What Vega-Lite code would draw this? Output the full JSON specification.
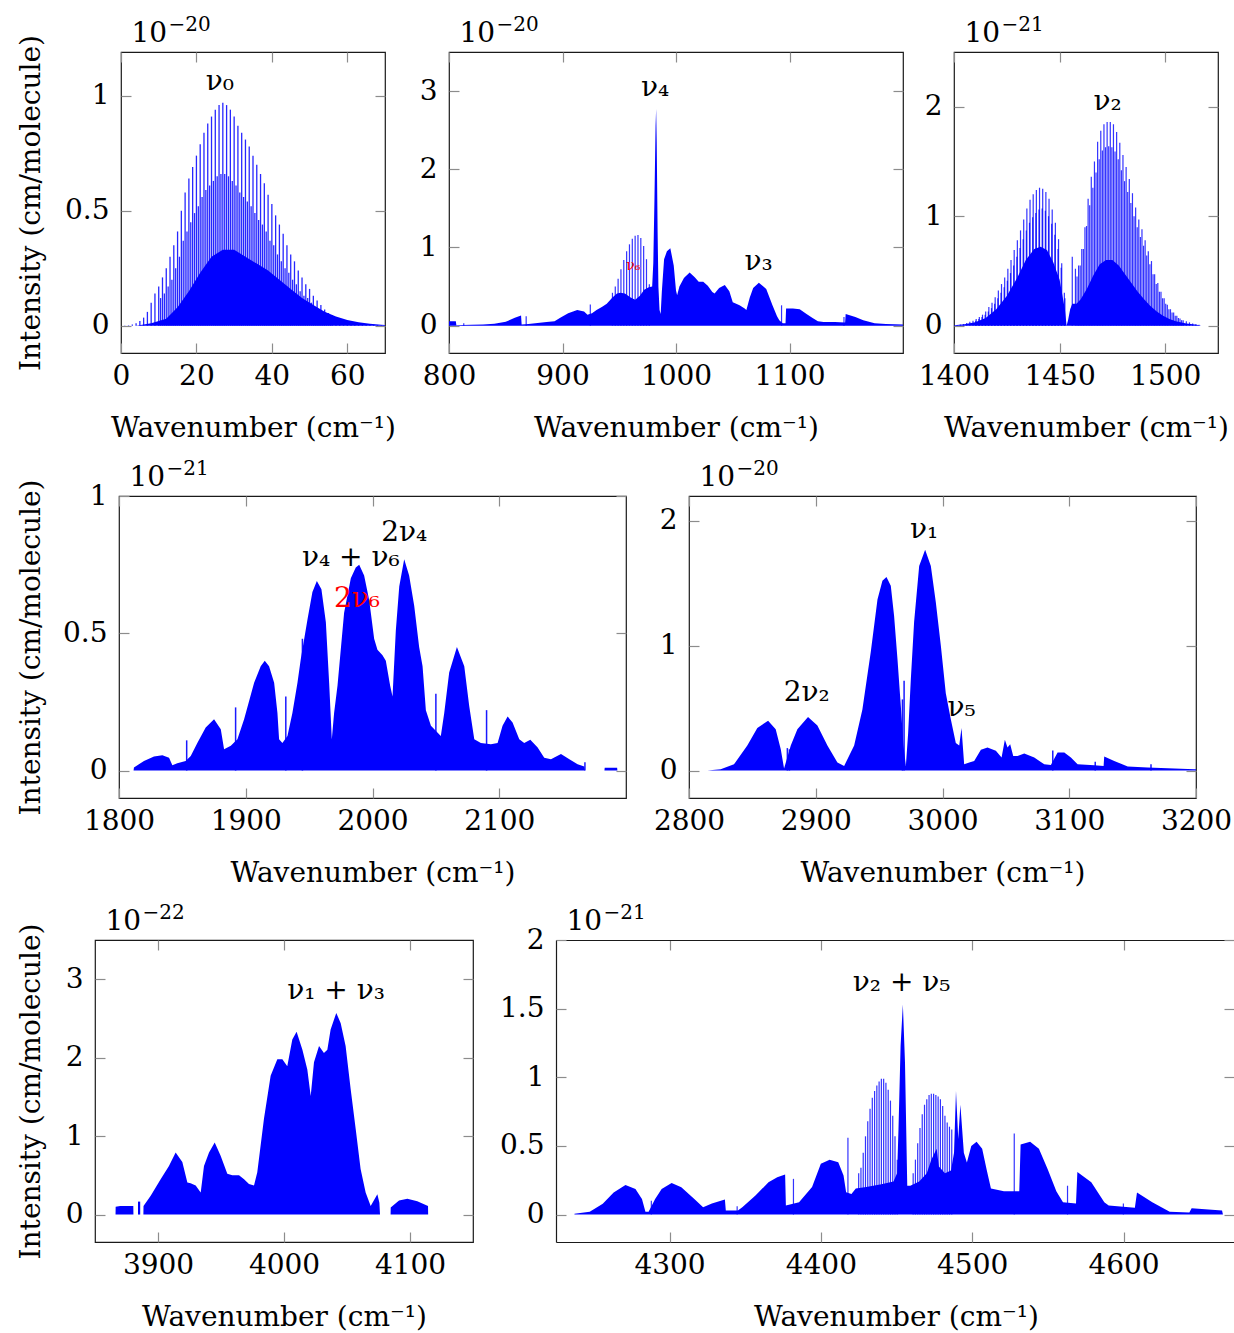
{
  "$schema": "https://vega.github.io/schema/vega-lite/v6.json",
  "background": "white",
  "padding": {"left": 16, "top": 13, "right": 0, "bottom": 0},
  "bounds": "flush",
  "spacing": 444,
  "config": {
    "font": "DejaVu Serif",
    "numberFormat": "~f",
    "view": {"stroke": "#1a1a1a", "strokeWidth": 1.2},
    "axis": {"domain": false, "grid": false, "labelFont": "DejaVu Serif", "labelFontSize": 28, "labelColor": "#000000", "labelFlush": false, "labelOverlap": false, "labelBound": false, "titleFont": "DejaVu Serif", "titleFontSize": 28, "titleFontWeight": "normal", "titleColor": "#000000", "tickColor": "#8c8c8c", "tickWidth": 1.2},
    "axisX": {"labelPadding": 9},
    "axisY": {"labelPadding": 12},
    "text": {"font": "DejaVu Serif", "fontSize": 28, "color": "#000000", "align": "center", "baseline": "middle"}
  },
  "datasets": {
    "p1a": [{"x":4,"y":0},{"x":8,"y":0.01},{"x":12,"y":0.03},{"x":15,"y":0.08},{"x":18,"y":0.15},{"x":21,"y":0.23},{"x":24,"y":0.3},{"x":27,"y":0.33},{"x":30,"y":0.33},{"x":33,"y":0.3},{"x":36,"y":0.27},{"x":39,"y":0.24},{"x":42,"y":0.2},{"x":45,"y":0.16},{"x":48,"y":0.12},{"x":51,"y":0.09},{"x":54,"y":0.06},{"x":57,"y":0.04},{"x":60,"y":0.025},{"x":63,"y":0.015},{"x":66,"y":0.008},{"x":69,"y":0.004},{"x":70,"y":0.003}],
    "p1s": [{"x":1,"y":0.001},{"x":2,"y":0.002},{"x":3,"y":0.005},{"x":4,"y":0.01},{"x":5,"y":0.02},{"x":6,"y":0.035},{"x":7,"y":0.06},{"x":8,"y":0.1},{"x":9,"y":0.14},{"x":10,"y":0.17},{"x":11,"y":0.21},{"x":12,"y":0.25},{"x":13,"y":0.3},{"x":14,"y":0.35},{"x":15,"y":0.41},{"x":16,"y":0.5},{"x":17,"y":0.58},{"x":18,"y":0.64},{"x":19,"y":0.69},{"x":20,"y":0.74},{"x":21,"y":0.79},{"x":22,"y":0.84},{"x":23,"y":0.88},{"x":24,"y":0.91},{"x":25,"y":0.94},{"x":26,"y":0.96},{"x":27,"y":0.97},{"x":28,"y":0.96},{"x":29,"y":0.94},{"x":30,"y":0.91},{"x":31,"y":0.87},{"x":32,"y":0.84},{"x":33,"y":0.81},{"x":34,"y":0.78},{"x":35,"y":0.74},{"x":36,"y":0.7},{"x":37,"y":0.66},{"x":38,"y":0.62},{"x":39,"y":0.57},{"x":40,"y":0.53},{"x":41,"y":0.48},{"x":42,"y":0.44},{"x":43,"y":0.4},{"x":44,"y":0.35},{"x":45,"y":0.31},{"x":46,"y":0.28},{"x":47,"y":0.24},{"x":48,"y":0.21},{"x":49,"y":0.18},{"x":50,"y":0.16},{"x":51,"y":0.13},{"x":52,"y":0.11},{"x":53,"y":0.09},{"x":54,"y":0.07},{"x":55,"y":0.055},{"x":56,"y":0.045},{"x":57,"y":0.037},{"x":58,"y":0.03},{"x":59,"y":0.025},{"x":60,"y":0.02},{"x":61,"y":0.016},{"x":62,"y":0.013},{"x":63,"y":0.01},{"x":64,"y":0.008},{"x":65,"y":0.006},{"x":66,"y":0.005},{"x":67,"y":0.004},{"x":68,"y":0.003},{"x":69,"y":0.002},
      {"x":10.5,"y":0.12},{"x":11.5,"y":0.14},{"x":12.5,"y":0.17},{"x":13.5,"y":0.2},{"x":14.5,"y":0.25},{"x":15.5,"y":0.3},{"x":16.5,"y":0.37},{"x":17.5,"y":0.41},{"x":18.5,"y":0.45},{"x":19.5,"y":0.49},{"x":20.5,"y":0.52},{"x":21.5,"y":0.56},{"x":22.5,"y":0.59},{"x":23.5,"y":0.61},{"x":24.5,"y":0.63},{"x":25.5,"y":0.65},{"x":26.5,"y":0.66},{"x":27.5,"y":0.66},{"x":28.5,"y":0.65},{"x":29.5,"y":0.63},{"x":30.5,"y":0.61},{"x":31.5,"y":0.58},{"x":32.5,"y":0.56},{"x":33.5,"y":0.54},{"x":34.5,"y":0.52},{"x":35.5,"y":0.49},{"x":36.5,"y":0.46},{"x":37.5,"y":0.44},{"x":38.5,"y":0.41},{"x":39.5,"y":0.37},{"x":40.5,"y":0.35},{"x":41.5,"y":0.31},{"x":42.5,"y":0.28},{"x":43.5,"y":0.25},{"x":44.5,"y":0.23},{"x":45.5,"y":0.2},{"x":46.5,"y":0.18},{"x":47.5,"y":0.15},{"x":48.5,"y":0.13},{"x":49.5,"y":0.12},{"x":50.5,"y":0.1},{"x":51.5,"y":0.08},{"x":52.5,"y":0.07},{"x":53.5,"y":0.055},{"x":54.5,"y":0.045},{"x":55.5,"y":0.035}],
    "p1l": [{"x":26.2,"y":1.06,"t":"ν₀"}],
    "p2a": [{"x":800,"y":0.055},{"x":806,"y":0.055},{"x":806.5,"y":0.005},{"x":812,"y":0.008},{"x":820,"y":0.01},{"x":830,"y":0.015},{"x":840,"y":0.025},{"x":850,"y":0.05},{"x":858,"y":0.1},{"x":863.5,"y":0.13},{"x":864,"y":0.015},{"x":870,"y":0.02},{"x":878,"y":0.035},{"x":886,"y":0.045},{"x":893,"y":0.055},{"x":898,"y":0.1},{"x":905,"y":0.16},{"x":913,"y":0.2},{"x":919,"y":0.18},{"x":922,"y":0.14},{"x":926,"y":0.16},{"x":930,"y":0.2},{"x":935,"y":0.24},{"x":939,"y":0.28},{"x":944,"y":0.36},{"x":948,"y":0.41},{"x":951,"y":0.42},{"x":955,"y":0.41},{"x":960,"y":0.36},{"x":964,"y":0.33},{"x":968,"y":0.38},{"x":972,"y":0.46},{"x":976,"y":0.49},{"x":979,"y":0.5},{"x":980,"y":0.8},{"x":981,"y":1.6},{"x":982,"y":2.55},{"x":982.5,"y":2.77},{"x":983,"y":2.35},{"x":983.8,"y":1.2},{"x":984.5,"y":0.5},{"x":985.5,"y":0.2},{"x":986.5,"y":0.15},{"x":987.5,"y":0.43},{"x":989.5,"y":0.85},{"x":992,"y":0.95},{"x":995,"y":0.99},{"x":998,"y":0.77},{"x":1000,"y":0.45},{"x":1001,"y":0.39},{"x":1003,"y":0.5},{"x":1007,"y":0.61},{"x":1012,"y":0.68},{"x":1016.5,"y":0.62},{"x":1020,"y":0.56},{"x":1024,"y":0.56},{"x":1028,"y":0.51},{"x":1032,"y":0.43},{"x":1034,"y":0.41},{"x":1038,"y":0.48},{"x":1043,"y":0.52},{"x":1047,"y":0.44},{"x":1050,"y":0.3},{"x":1056,"y":0.26},{"x":1060.5,"y":0.22},{"x":1062,"y":0.2},{"x":1065,"y":0.36},{"x":1068,"y":0.48},{"x":1073,"y":0.55},{"x":1079.5,"y":0.47},{"x":1085,"y":0.26},{"x":1089,"y":0.12},{"x":1091,"y":0.07},{"x":1094,"y":0.03},{"x":1096.5,"y":0.03},{"x":1097,"y":0.22},{"x":1103,"y":0.22},{"x":1109,"y":0.21},{"x":1115,"y":0.15},{"x":1120,"y":0.1},{"x":1125,"y":0.055},{"x":1130,"y":0.045},{"x":1140,"y":0.045},{"x":1149,"y":0.04},{"x":1149.5,"y":0.15},{"x":1158,"y":0.11},{"x":1165,"y":0.07},{"x":1175,"y":0.03},{"x":1185,"y":0.02},{"x":1200,"y":0.015}],
    "p2s": [{"x":944,"y":0.42},{"x":946.5,"y":0.5},{"x":949,"y":0.6},{"x":951.5,"y":0.72},{"x":954,"y":0.84},{"x":956.5,"y":0.95},{"x":959,"y":1.04},{"x":961.5,"y":1.11},{"x":964,"y":1.15},{"x":966.5,"y":1.16},{"x":969,"y":1.12},{"x":971.5,"y":1.02},{"x":974,"y":0.85},{"x":976.5,"y":0.53},{"x":813,"y":0.03},{"x":868,"y":0.12},{"x":924.5,"y":0.27},{"x":1093,"y":0.26},{"x":1148,"y":0.11}],
    "p2l": [{"x":981.6,"y":3.04,"t":"ν₄"},{"x":1072.8,"y":0.82,"t":"ν₃"}],
    "p2r": [{"x":962.3,"y":0.76,"t":"ν₆"}],
    "p3a": [{"x":1400,"y":0.003},{"x":1405,"y":0.012},{"x":1410,"y":0.03},{"x":1415,"y":0.07},{"x":1420,"y":0.15},{"x":1425,"y":0.27},{"x":1430,"y":0.44},{"x":1434,"y":0.6},{"x":1438,"y":0.7},{"x":1441,"y":0.72},{"x":1444,"y":0.69},{"x":1447,"y":0.58},{"x":1450,"y":0.42},{"x":1452.5,"y":0.15},{"x":1453.3,"y":0},{"x":1454,"y":0.05},{"x":1455,"y":0.15},{"x":1456,"y":0.2},{"x":1458,"y":0.2},{"x":1460,"y":0.24},{"x":1463,"y":0.34},{"x":1466,"y":0.46},{"x":1469,"y":0.56},{"x":1472,"y":0.6},{"x":1475,"y":0.6},{"x":1478,"y":0.55},{"x":1481,"y":0.47},{"x":1484,"y":0.39},{"x":1487,"y":0.31},{"x":1490,"y":0.24},{"x":1493,"y":0.18},{"x":1496,"y":0.13},{"x":1499,"y":0.09},{"x":1502,"y":0.06},{"x":1505,"y":0.04},{"x":1510,"y":0.02},{"x":1515,"y":0.008},{"x":1517,"y":0}],
    "p3s": [{"x":1401.5,"y":0.005},{"x":1403,"y":0.01},{"x":1404.5,"y":0.015},{"x":1406,"y":0.025},{"x":1407.5,"y":0.035},{"x":1409,"y":0.045},{"x":1410.5,"y":0.06},{"x":1412,"y":0.08},{"x":1413.5,"y":0.1},{"x":1415,"y":0.13},{"x":1416.5,"y":0.17},{"x":1418,"y":0.21},{"x":1419.5,"y":0.26},{"x":1421,"y":0.32},{"x":1422.5,"y":0.38},{"x":1424,"y":0.44},{"x":1425.5,"y":0.52},{"x":1427,"y":0.6},{"x":1428.5,"y":0.69},{"x":1430,"y":0.78},{"x":1431.5,"y":0.87},{"x":1433,"y":0.97},{"x":1434.5,"y":1.07},{"x":1436,"y":1.15},{"x":1437.5,"y":1.2},{"x":1439,"y":1.24},{"x":1440.5,"y":1.26},{"x":1442,"y":1.25},{"x":1443.5,"y":1.22},{"x":1445,"y":1.16},{"x":1446.5,"y":1.06},{"x":1448,"y":0.94},{"x":1449.5,"y":0.79},{"x":1451,"y":0.57},{"x":1452.5,"y":0.25},
      {"x":1410.25,"y":0.045},{"x":1411.75,"y":0.06},{"x":1413.25,"y":0.08},{"x":1414.75,"y":0.1},{"x":1416.25,"y":0.13},{"x":1417.75,"y":0.16},{"x":1419.25,"y":0.2},{"x":1420.75,"y":0.25},{"x":1422.25,"y":0.3},{"x":1423.75,"y":0.35},{"x":1425.25,"y":0.41},{"x":1426.75,"y":0.48},{"x":1428.25,"y":0.55},{"x":1429.75,"y":0.63},{"x":1431.25,"y":0.71},{"x":1432.75,"y":0.79},{"x":1434.25,"y":0.87},{"x":1435.75,"y":0.94},{"x":1437.25,"y":0.99},{"x":1438.75,"y":1.03},{"x":1440.25,"y":1.06},{"x":1441.75,"y":1.07},{"x":1443.25,"y":1.05},{"x":1444.75,"y":1.0},{"x":1446.25,"y":0.93},{"x":1447.75,"y":0.83},{"x":1449.25,"y":0.7},{"x":1450.75,"y":0.53},{"x":1452.25,"y":0.3},
      {"x":1456,"y":0.63},{"x":1457.5,"y":0.52},{"x":1459,"y":0.55},{"x":1460.5,"y":0.7},{"x":1462,"y":0.9},{"x":1463.5,"y":1.16},{"x":1465,"y":1.36},{"x":1466.5,"y":1.5},{"x":1468,"y":1.68},{"x":1469.5,"y":1.78},{"x":1471,"y":1.84},{"x":1472.5,"y":1.86},{"x":1474,"y":1.86},{"x":1475.5,"y":1.84},{"x":1477,"y":1.77},{"x":1478.5,"y":1.67},{"x":1480,"y":1.56},{"x":1481.5,"y":1.45},{"x":1483,"y":1.34},{"x":1484.5,"y":1.21},{"x":1486,"y":1.08},{"x":1487.5,"y":0.97},{"x":1489,"y":0.88},{"x":1490.5,"y":0.78},{"x":1492,"y":0.68},{"x":1493.5,"y":0.59},{"x":1495,"y":0.47},{"x":1496.5,"y":0.39},{"x":1498,"y":0.31},{"x":1499.5,"y":0.25},{"x":1501,"y":0.19},{"x":1502.5,"y":0.15},{"x":1504,"y":0.12},{"x":1505.5,"y":0.09},{"x":1507,"y":0.065},{"x":1508.5,"y":0.05},{"x":1510,"y":0.04},{"x":1511.5,"y":0.03},{"x":1513,"y":0.02},{"x":1514.5,"y":0.012},{"x":1516,"y":0.008},
      {"x":1458.25,"y":0.45},{"x":1459.75,"y":0.55},{"x":1461.25,"y":0.7},{"x":1462.75,"y":0.91},{"x":1464.25,"y":1.1},{"x":1465.75,"y":1.26},{"x":1467.25,"y":1.4},{"x":1468.75,"y":1.52},{"x":1470.25,"y":1.6},{"x":1471.75,"y":1.63},{"x":1473.25,"y":1.64},{"x":1474.75,"y":1.63},{"x":1476.25,"y":1.59},{"x":1477.75,"y":1.52},{"x":1479.25,"y":1.42},{"x":1480.75,"y":1.32},{"x":1482.25,"y":1.22},{"x":1483.75,"y":1.12},{"x":1485.25,"y":1.0},{"x":1486.75,"y":0.9},{"x":1488.25,"y":0.81},{"x":1489.75,"y":0.73},{"x":1491.25,"y":0.64},{"x":1492.75,"y":0.56},{"x":1494.25,"y":0.47},{"x":1495.75,"y":0.38},{"x":1497.25,"y":0.31},{"x":1498.75,"y":0.25},{"x":1500.25,"y":0.2},{"x":1501.75,"y":0.15},{"x":1503.25,"y":0.12},{"x":1504.75,"y":0.09},{"x":1506.25,"y":0.07},{"x":1507.75,"y":0.05}],
    "p3l": [{"x":1472.7,"y":2.04,"t":"ν₂"}],
    "p4a": [{"x":1811.5,"y":0},{"x":1811.8,"y":0.011},{"x":1819.7,"y":0.035},{"x":1827.6,"y":0.051},{"x":1834.2,"y":0.056},{"x":1839.5,"y":0.047},{"x":1842.1,"y":0.019},{"x":1846,"y":0.027},{"x":1852.6,"y":0.035},{"x":1856.6,"y":0.053},{"x":1861.8,"y":0.1},{"x":1868.4,"y":0.157},{"x":1875,"y":0.187},{"x":1880.3,"y":0.15},{"x":1882.9,"y":0.078},{"x":1888.2,"y":0.09},{"x":1893.4,"y":0.114},{"x":1898.7,"y":0.187},{"x":1906.6,"y":0.32},{"x":1911.8,"y":0.38},{"x":1915,"y":0.4},{"x":1918.4,"y":0.38},{"x":1922.4,"y":0.32},{"x":1925,"y":0.21},{"x":1926.3,"y":0.114},{"x":1928.9,"y":0.1},{"x":1932.9,"y":0.126},{"x":1936.8,"y":0.21},{"x":1940.8,"y":0.32},{"x":1943.4,"y":0.405},{"x":1948.7,"y":0.55},{"x":1952.6,"y":0.65},{"x":1956.1,"y":0.69},{"x":1959.7,"y":0.66},{"x":1963.2,"y":0.54},{"x":1965.8,"y":0.32},{"x":1967.9,"y":0.114},{"x":1969.7,"y":0.21},{"x":1972.4,"y":0.31},{"x":1977.6,"y":0.575},{"x":1982.9,"y":0.7},{"x":1986.8,"y":0.74},{"x":1989.5,"y":0.75},{"x":1993.4,"y":0.71},{"x":1997.4,"y":0.62},{"x":2001.3,"y":0.48},{"x":2003.9,"y":0.44},{"x":2007.9,"y":0.42},{"x":2010.5,"y":0.4},{"x":2013.9,"y":0.31},{"x":2015.8,"y":0.27},{"x":2018.4,"y":0.51},{"x":2021.1,"y":0.67},{"x":2025,"y":0.77},{"x":2028.9,"y":0.71},{"x":2032.9,"y":0.6},{"x":2036.8,"y":0.45},{"x":2039.5,"y":0.38},{"x":2042.1,"y":0.22},{"x":2046.1,"y":0.163},{"x":2053.9,"y":0.126},{"x":2056.6,"y":0.21},{"x":2060.5,"y":0.357},{"x":2066.6,"y":0.45},{"x":2072.4,"y":0.38},{"x":2076.3,"y":0.235},{"x":2080.3,"y":0.114},{"x":2085.5,"y":0.1},{"x":2093.4,"y":0.096},{"x":2098.7,"y":0.1},{"x":2102.6,"y":0.163},{"x":2106.6,"y":0.197},{"x":2110.5,"y":0.175},{"x":2115.8,"y":0.114},{"x":2119.7,"y":0.1},{"x":2124.5,"y":0.112},{"x":2130.3,"y":0.084},{"x":2135.5,"y":0.047},{"x":2140.8,"y":0.041},{"x":2148.7,"y":0.06},{"x":2155.3,"y":0.041},{"x":2161.8,"y":0.023},{"x":2167.1,"y":0.015},{"x":2167.6,"y":0},{"x":2183,"y":0},{"x":2183.2,"y":0.01},{"x":2193,"y":0.01},{"x":2193.2,"y":0}],
    "p4s": [{"x":1853.4,"y":0.11},{"x":1892,"y":0.23},{"x":1931.6,"y":0.27},{"x":1944.7,"y":0.48},{"x":2050,"y":0.28},{"x":2090,"y":0.22},{"x":2167.6,"y":0.03}],
    "p4l": [{"x":1982.9,"y":0.775,"t":"ν₄ + ν₆"},{"x":2025,"y":0.866,"t":"2ν₄"}],
    "p4r": [{"x":1987.7,"y":0.624,"t":"2ν₆"}],
    "p5a": [{"x":2814.5,"y":0},{"x":2825,"y":0.011},{"x":2835.5,"y":0.05},{"x":2846,"y":0.2},{"x":2853.9,"y":0.34},{"x":2862.4,"y":0.4},{"x":2868.4,"y":0.33},{"x":2872.4,"y":0.17},{"x":2875,"y":0.016},{"x":2880.3,"y":0.2},{"x":2885.5,"y":0.33},{"x":2893.9,"y":0.43},{"x":2901.3,"y":0.36},{"x":2909.2,"y":0.2},{"x":2917.1,"y":0.064},{"x":2922.4,"y":0.037},{"x":2930.3,"y":0.2},{"x":2936.8,"y":0.49},{"x":2943.4,"y":0.95},{"x":2948.7,"y":1.37},{"x":2952.6,"y":1.52},{"x":2955.8,"y":1.55},{"x":2959.2,"y":1.48},{"x":2961.8,"y":1.24},{"x":2964.5,"y":0.89},{"x":2967.1,"y":0.52},{"x":2969.2,"y":0.2},{"x":2971.1,"y":0.037},{"x":2972.9,"y":0.3},{"x":2975,"y":0.73},{"x":2977.6,"y":1.19},{"x":2981.6,"y":1.64},{"x":2986.3,"y":1.77},{"x":2990.8,"y":1.64},{"x":2994.7,"y":1.35},{"x":2998.7,"y":1.0},{"x":3002.6,"y":0.62},{"x":3006.6,"y":0.41},{"x":3010.5,"y":0.22},{"x":3013.2,"y":0.2},{"x":3015,"y":0.34},{"x":3017.1,"y":0.05},{"x":3021.1,"y":0.064},{"x":3025,"y":0.077},{"x":3030.3,"y":0.166},{"x":3035.5,"y":0.184},{"x":3042.1,"y":0.158},{"x":3046.6,"y":0.104},{"x":3049.2,"y":0.246},{"x":3051.3,"y":0.184},{"x":3053.4,"y":0.21},{"x":3055.8,"y":0.117},{"x":3059.2,"y":0.117},{"x":3064.5,"y":0.136},{"x":3072.4,"y":0.104},{"x":3080.3,"y":0.05},{"x":3085.5,"y":0.045},{"x":3090.8,"y":0.144},{"x":3096.1,"y":0.144},{"x":3101.3,"y":0.104},{"x":3106.6,"y":0.05},{"x":3119.7,"y":0.043},{"x":3127.1,"y":0.037},{"x":3127.6,"y":0.112},{"x":3135.5,"y":0.077},{"x":3146.1,"y":0.032},{"x":3161.8,"y":0.024},{"x":3182.9,"y":0.016},{"x":3198.7,"y":0.011},{"x":3200,"y":0.01}],
    "p5s": [{"x":2877.6,"y":0.18},{"x":2879.2,"y":0.17},{"x":2968.4,"y":0.57},{"x":2969.7,"y":0.72},{"x":3087,"y":0.16},{"x":3120.5,"y":0.07},{"x":3164.5,"y":0.05}],
    "p5l": [{"x":2985.5,"y":1.93,"t":"ν₁"},{"x":2892.9,"y":0.625,"t":"2ν₂"},{"x":3015,"y":0.505,"t":"ν₅"}],
    "p6a": [{"x":3866.3,"y":0},{"x":3866.4,"y":0.1},{"x":3870,"y":0.11},{"x":3875,"y":0.11},{"x":3880.4,"y":0.11},{"x":3880.5,"y":0},{"x":3888.4,"y":0},{"x":3888.5,"y":0.11},{"x":3894.2,"y":0.24},{"x":3902.1,"y":0.45},{"x":3908.7,"y":0.62},{"x":3914,"y":0.79},{"x":3919.3,"y":0.67},{"x":3923.3,"y":0.41},{"x":3925.9,"y":0.4},{"x":3929.9,"y":0.37},{"x":3933.9,"y":0.28},{"x":3936.5,"y":0.62},{"x":3940.5,"y":0.79},{"x":3945,"y":0.92},{"x":3949.7,"y":0.75},{"x":3955,"y":0.52},{"x":3959,"y":0.5},{"x":3964.3,"y":0.5},{"x":3968.3,"y":0.45},{"x":3972.2,"y":0.39},{"x":3976.2,"y":0.37},{"x":3978.8,"y":0.54},{"x":3984.1,"y":1.22},{"x":3989.4,"y":1.77},{"x":3994.7,"y":1.98},{"x":3998.7,"y":1.98},{"x":4002.6,"y":1.89},{"x":4006.6,"y":2.23},{"x":4010,"y":2.33},{"x":4014.6,"y":2.1},{"x":4018.5,"y":1.85},{"x":4021.2,"y":1.51},{"x":4023.8,"y":1.94},{"x":4027.8,"y":2.15},{"x":4031.7,"y":2.06},{"x":4034.4,"y":2.1},{"x":4037,"y":2.36},{"x":4041.5,"y":2.57},{"x":4045,"y":2.44},{"x":4048.9,"y":2.15},{"x":4052.9,"y":1.6},{"x":4056.9,"y":1.09},{"x":4060.8,"y":0.58},{"x":4064.8,"y":0.28},{"x":4068.8,"y":0.11},{"x":4074.1,"y":0.26},{"x":4075.7,"y":0.15},{"x":4076.2,"y":0},{"x":4084.6,"y":0},{"x":4084.7,"y":0.09},{"x":4091.3,"y":0.18},{"x":4097.9,"y":0.2},{"x":4105.8,"y":0.17},{"x":4114.3,"y":0.11},{"x":4114.4,"y":0}],
    "p6s": [{"x":3885,"y":0.165}],
    "p6l": [{"x":4041.3,"y":2.85,"t":"ν₁ + ν₃"}],
    "p7a": [{"x":4237.2,"y":0.005},{"x":4247.3,"y":0.02},{"x":4255.9,"y":0.078},{"x":4263.1,"y":0.16},{"x":4270.9,"y":0.216},{"x":4277.5,"y":0.186},{"x":4281.8,"y":0.114},{"x":4284.1,"y":0.02},{"x":4286.2,"y":0.02},{"x":4290.5,"y":0.114},{"x":4294.8,"y":0.186},{"x":4301.4,"y":0.23},{"x":4307.8,"y":0.199},{"x":4316.4,"y":0.114},{"x":4322.2,"y":0.053},{"x":4328,"y":0.08},{"x":4336.6,"y":0.109},{"x":4337.2,"y":0.03},{"x":4345.2,"y":0.03},{"x":4348.1,"y":0.053},{"x":4356.8,"y":0.138},{"x":4365.4,"y":0.235},{"x":4371.2,"y":0.271},{"x":4376.4,"y":0.291},{"x":4376.9,"y":0.065},{"x":4385.6,"y":0.09},{"x":4394.2,"y":0.2},{"x":4400,"y":0.37},{"x":4405.8,"y":0.4},{"x":4411.5,"y":0.381},{"x":4415,"y":0.284},{"x":4416.7,"y":0.162},{"x":4420.2,"y":0.15},{"x":4423.1,"y":0.19},{"x":4430,"y":0.2},{"x":4440,"y":0.22},{"x":4448,"y":0.24},{"x":4450.4,"y":0.3},{"x":4451.3,"y":0.62},{"x":4452.7,"y":1.23},{"x":4454.2,"y":1.53},{"x":4455.6,"y":1.11},{"x":4457.1,"y":0.21},{"x":4459.1,"y":0.21},{"x":4465,"y":0.24},{"x":4470,"y":0.3},{"x":4473,"y":0.4},{"x":4476.5,"y":0.48},{"x":4478,"y":0.35},{"x":4482,"y":0.3},{"x":4486,"y":0.32},{"x":4488,"y":0.45},{"x":4489.3,"y":0.9},{"x":4490.8,"y":0.55},{"x":4492.2,"y":0.8},{"x":4494.5,"y":0.45},{"x":4496.5,"y":0.38},{"x":4499.4,"y":0.5},{"x":4502.9,"y":0.53},{"x":4506.6,"y":0.48},{"x":4509.5,"y":0.33},{"x":4512.4,"y":0.19},{"x":4521,"y":0.17},{"x":4531.1,"y":0.17},{"x":4532,"y":0.51},{"x":4538.3,"y":0.53},{"x":4544.1,"y":0.48},{"x":4549.9,"y":0.33},{"x":4555.6,"y":0.17},{"x":4560,"y":0.09},{"x":4568.6,"y":0.08},{"x":4569.5,"y":0.31},{"x":4578.7,"y":0.235},{"x":4587.3,"y":0.09},{"x":4590.2,"y":0.065},{"x":4607.5,"y":0.05},{"x":4608.9,"y":0.16},{"x":4619,"y":0.09},{"x":4630.5,"y":0.02},{"x":4643.5,"y":0.015},{"x":4645,"y":0.045},{"x":4665.1,"y":0.03},{"x":4665.7,"y":0}],
    "p7s": [{"x":4425,"y":0.3},{"x":4426.5,"y":0.34},{"x":4428,"y":0.45},{"x":4429.5,"y":0.57},{"x":4431,"y":0.68},{"x":4432.5,"y":0.77},{"x":4434,"y":0.85},{"x":4435.5,"y":0.9},{"x":4437,"y":0.94},{"x":4438.5,"y":0.97},{"x":4440,"y":0.99},{"x":4441.5,"y":0.99},{"x":4443,"y":0.96},{"x":4444.5,"y":0.91},{"x":4446,"y":0.83},{"x":4447.5,"y":0.72},{"x":4449,"y":0.57},{"x":4450.5,"y":0.4},
      {"x":4461,"y":0.3},{"x":4462.5,"y":0.4},{"x":4464,"y":0.52},{"x":4465.5,"y":0.63},{"x":4467,"y":0.73},{"x":4468.5,"y":0.8},{"x":4470,"y":0.84},{"x":4471.5,"y":0.87},{"x":4473,"y":0.88},{"x":4474.5,"y":0.88},{"x":4476,"y":0.87},{"x":4477.5,"y":0.86},{"x":4479,"y":0.84},{"x":4480.5,"y":0.79},{"x":4482,"y":0.72},{"x":4483.5,"y":0.67},{"x":4485,"y":0.64},{"x":4486.5,"y":0.62},
      {"x":4288,"y":0.1},{"x":4344.7,"y":0.06},{"x":4381.9,"y":0.26},{"x":4417.9,"y":0.56},{"x":4527.8,"y":0.59},{"x":4563,"y":0.21},{"x":4599.9,"y":0.08}],
    "p7l": [{"x":4453.4,"y":1.69,"t":"ν₂ + ν₅"}]
  },
  "vconcat": [
    {
      "bounds": "flush",
      "spacing": 0,
      "hconcat": [
        {"width": 26, "height": 1, "view": {"stroke": null}, "data": {"values": []}, "mark": {"type": "rule", "opacity": 0}, "encoding": {}},
        {
          "width": 264, "height": 301,
          "layer": [
            {"data": {"name": "p1a"}, "mark": {"type": "area", "color": "#0000ff"},
             "encoding": {
               "x": {"field": "x", "type": "quantitative", "scale": {"domain": [0, 70], "nice": false, "zero": false}, "axis": {"orient": "bottom", "values": [0, 20, 40, 60], "ticks": false, "title": "Wavenumber (cm⁻¹)", "titleX": 132, "titleY": 83, "titleBaseline": "alphabetic"}},
               "y": {"field": "y", "type": "quantitative", "scale": {"domain": [-0.119, 1.191], "nice": false, "zero": false}, "axis": {"orient": "left", "values": [0, 0.5, 1], "ticks": false, "title": "Intensity (cm/molecule)", "titleX": -81.8, "titleY": 150.5, "titleAngle": 270, "titleBaseline": "alphabetic", "titleAlign": "center"}},
               "y2": {"datum": 0}}},
            {"data": {"name": "p1s"}, "mark": {"type": "rule", "color": "#0000ff", "strokeWidth": 1.3, "opacity": 0.85},
             "encoding": {
               "x": {"field": "x", "type": "quantitative", "scale": {"domain": [0, 70], "nice": false, "zero": false}, "axis": {"orient": "bottom", "values": [0, 20, 40, 60], "labels": false, "title": null, "tickSize": -10}},
               "y": {"field": "y", "type": "quantitative", "scale": {"domain": [-0.119, 1.191], "nice": false, "zero": false}, "axis": {"orient": "left", "values": [0, 0.5, 1], "labels": false, "title": null, "tickSize": -10}},
               "y2": {"datum": 0}}},
            {"data": {"name": "p1l"}, "mark": {"type": "text"},
             "encoding": {
               "x": {"field": "x", "type": "quantitative", "scale": {"domain": [0, 70], "nice": false, "zero": false}, "axis": {"orient": "top", "values": [0, 20, 40, 60], "labels": false, "tickSize": -10, "title": "10", "titleX": 10, "titleY": -11, "titleAlign": "left", "titleBaseline": "alphabetic", "titleAngle": 0}},
               "y": {"field": "y", "type": "quantitative", "scale": {"domain": [-0.119, 1.191], "nice": false, "zero": false}, "axis": {"orient": "right", "values": [0, 0.5, 1], "labels": false, "tickSize": -10, "title": "−20", "titleX": -217, "titleY": -22, "titleAlign": "left", "titleBaseline": "alphabetic", "titleAngle": 0, "titleFontSize": 20}},
               "text": {"field": "t"}}}
          ],
          "resolve": {"axis": {"x": "independent", "y": "independent"}}
        },
        {"width": 64, "height": 1, "view": {"stroke": null}, "data": {"values": []}, "mark": {"type": "rule", "opacity": 0}, "encoding": {}},
        {
          "width": 454, "height": 301,
          "layer": [
            {"data": {"name": "p2a"}, "mark": {"type": "area", "color": "#0000ff"},
             "encoding": {
               "x": {"field": "x", "type": "quantitative", "scale": {"domain": [800, 1200], "nice": false, "zero": false}, "axis": {"orient": "bottom", "values": [800, 900, 1000, 1100], "ticks": false, "title": "Wavenumber (cm⁻¹)", "titleX": 227, "titleY": 83, "titleBaseline": "alphabetic"}},
               "y": {"field": "y", "type": "quantitative", "scale": {"domain": [-0.35, 3.5], "nice": false, "zero": false}, "axis": {"orient": "left", "values": [0, 1, 2, 3], "ticks": false, "title": null}},
               "y2": {"datum": 0}}},
            {"data": {"name": "p2s"}, "mark": {"type": "rule", "color": "#0000ff", "strokeWidth": 1.2, "opacity": 0.8},
             "encoding": {
               "x": {"field": "x", "type": "quantitative", "scale": {"domain": [800, 1200], "nice": false, "zero": false}, "axis": {"orient": "bottom", "values": [800, 900, 1000, 1100], "labels": false, "title": null, "tickSize": -10}},
               "y": {"field": "y", "type": "quantitative", "scale": {"domain": [-0.35, 3.5], "nice": false, "zero": false}, "axis": {"orient": "left", "values": [0, 1, 2, 3], "labels": false, "title": null, "tickSize": -10}},
               "y2": {"datum": 0}}},
            {"data": {"name": "p2l"}, "mark": {"type": "text"},
             "encoding": {
               "x": {"field": "x", "type": "quantitative", "scale": {"domain": [800, 1200], "nice": false, "zero": false}, "axis": {"orient": "top", "values": [800, 900, 1000, 1100], "labels": false, "tickSize": -10, "title": "10", "titleX": 10, "titleY": -11, "titleAlign": "left", "titleBaseline": "alphabetic", "titleAngle": 0}},
               "y": {"field": "y", "type": "quantitative", "scale": {"domain": [-0.35, 3.5], "nice": false, "zero": false}, "axis": {"orient": "right", "values": [0, 1, 2, 3], "labels": false, "tickSize": -10, "title": "−20", "titleX": -407, "titleY": -22, "titleAlign": "left", "titleBaseline": "alphabetic", "titleAngle": 0, "titleFontSize": 20}},
               "text": {"field": "t"}}},
            {"data": {"name": "p2r"}, "mark": {"type": "text", "color": "#ff0000", "fontSize": 14},
             "encoding": {
               "x": {"field": "x", "type": "quantitative", "scale": {"domain": [800, 1200], "nice": false, "zero": false}, "axis": null},
               "y": {"field": "y", "type": "quantitative", "scale": {"domain": [-0.35, 3.5], "nice": false, "zero": false}, "axis": null},
               "text": {"field": "t"}}}
          ],
          "resolve": {"axis": {"x": "independent", "y": "independent"}}
        },
        {"width": 51, "height": 1, "view": {"stroke": null}, "data": {"values": []}, "mark": {"type": "rule", "opacity": 0}, "encoding": {}},
        {
          "width": 264, "height": 301,
          "layer": [
            {"data": {"name": "p3a"}, "mark": {"type": "area", "color": "#0000ff"},
             "encoding": {
               "x": {"field": "x", "type": "quantitative", "scale": {"domain": [1400, 1525], "nice": false, "zero": false}, "axis": {"orient": "bottom", "values": [1400, 1450, 1500], "ticks": false, "title": "Wavenumber (cm⁻¹)", "titleX": 132, "titleY": 83, "titleBaseline": "alphabetic"}},
               "y": {"field": "y", "type": "quantitative", "scale": {"domain": [-0.25, 2.5], "nice": false, "zero": false}, "axis": {"orient": "left", "values": [0, 1, 2], "ticks": false, "title": null}},
               "y2": {"datum": 0}}},
            {"data": {"name": "p3s"}, "mark": {"type": "rule", "color": "#0000ff", "strokeWidth": 1.2, "opacity": 0.8},
             "encoding": {
               "x": {"field": "x", "type": "quantitative", "scale": {"domain": [1400, 1525], "nice": false, "zero": false}, "axis": {"orient": "bottom", "values": [1400, 1450, 1500], "labels": false, "title": null, "tickSize": -10}},
               "y": {"field": "y", "type": "quantitative", "scale": {"domain": [-0.25, 2.5], "nice": false, "zero": false}, "axis": {"orient": "left", "values": [0, 1, 2], "labels": false, "title": null, "tickSize": -10}},
               "y2": {"datum": 0}}},
            {"data": {"name": "p3l"}, "mark": {"type": "text"},
             "encoding": {
               "x": {"field": "x", "type": "quantitative", "scale": {"domain": [1400, 1525], "nice": false, "zero": false}, "axis": {"orient": "top", "values": [1400, 1450, 1500], "labels": false, "tickSize": -10, "title": "10", "titleX": 10, "titleY": -11, "titleAlign": "left", "titleBaseline": "alphabetic", "titleAngle": 0}},
               "y": {"field": "y", "type": "quantitative", "scale": {"domain": [-0.25, 2.5], "nice": false, "zero": false}, "axis": {"orient": "right", "values": [0, 1, 2], "labels": false, "tickSize": -10, "title": "−21", "titleX": -217, "titleY": -22, "titleAlign": "left", "titleBaseline": "alphabetic", "titleAngle": 0, "titleFontSize": 20}},
               "text": {"field": "t"}}}
          ],
          "resolve": {"axis": {"x": "independent", "y": "independent"}}
        }
      ]
    },
    {
      "bounds": "flush",
      "spacing": 0,
      "hconcat": [
        {"width": 24, "height": 1, "view": {"stroke": null}, "data": {"values": []}, "mark": {"type": "rule", "opacity": 0}, "encoding": {}},
        {
          "width": 507, "height": 302,
          "layer": [
            {"data": {"name": "p4a"}, "mark": {"type": "area", "color": "#0000ff"},
             "encoding": {
               "x": {"field": "x", "type": "quantitative", "scale": {"domain": [1800, 2200], "nice": false, "zero": false}, "axis": {"orient": "bottom", "values": [1800, 1900, 2000, 2100], "ticks": false, "title": "Wavenumber (cm⁻¹)", "titleX": 253.5, "titleY": 83, "titleBaseline": "alphabetic"}},
               "y": {"field": "y", "type": "quantitative", "scale": {"domain": [-0.1, 1.0], "nice": false, "zero": false}, "axis": {"orient": "left", "values": [0, 0.5, 1], "ticks": false, "title": "Intensity (cm/molecule)", "titleX": -79.8, "titleY": 151, "titleAngle": 270, "titleBaseline": "alphabetic", "titleAlign": "center"}},
               "y2": {"datum": 0}}},
            {"data": {"name": "p4s"}, "mark": {"type": "rule", "color": "#0000ff", "strokeWidth": 1.5, "opacity": 0.9},
             "encoding": {
               "x": {"field": "x", "type": "quantitative", "scale": {"domain": [1800, 2200], "nice": false, "zero": false}, "axis": {"orient": "bottom", "values": [1800, 1900, 2000, 2100], "labels": false, "title": null, "tickSize": -10}},
               "y": {"field": "y", "type": "quantitative", "scale": {"domain": [-0.1, 1.0], "nice": false, "zero": false}, "axis": {"orient": "left", "values": [0, 0.5, 1], "labels": false, "title": null, "tickSize": -10}},
               "y2": {"datum": 0}}},
            {"data": {"name": "p4l"}, "mark": {"type": "text"},
             "encoding": {
               "x": {"field": "x", "type": "quantitative", "scale": {"domain": [1800, 2200], "nice": false, "zero": false}, "axis": {"orient": "top", "values": [1800, 1900, 2000, 2100], "labels": false, "tickSize": -10, "title": "10", "titleX": 10, "titleY": -11, "titleAlign": "left", "titleBaseline": "alphabetic", "titleAngle": 0}},
               "y": {"field": "y", "type": "quantitative", "scale": {"domain": [-0.1, 1.0], "nice": false, "zero": false}, "axis": {"orient": "right", "values": [0, 0.5, 1], "labels": false, "tickSize": -10, "title": "−21", "titleX": -460, "titleY": -22, "titleAlign": "left", "titleBaseline": "alphabetic", "titleAngle": 0, "titleFontSize": 20}},
               "text": {"field": "t"}}},
            {"data": {"name": "p4r"}, "mark": {"type": "text", "color": "#ff0000"},
             "encoding": {
               "x": {"field": "x", "type": "quantitative", "scale": {"domain": [1800, 2200], "nice": false, "zero": false}, "axis": null},
               "y": {"field": "y", "type": "quantitative", "scale": {"domain": [-0.1, 1.0], "nice": false, "zero": false}, "axis": null},
               "text": {"field": "t"}}}
          ],
          "resolve": {"axis": {"x": "independent", "y": "independent"}}
        },
        {"width": 63, "height": 1, "view": {"stroke": null}, "data": {"values": []}, "mark": {"type": "rule", "opacity": 0}, "encoding": {}},
        {
          "width": 507, "height": 302,
          "layer": [
            {"data": {"name": "p5a"}, "mark": {"type": "area", "color": "#0000ff"},
             "encoding": {
               "x": {"field": "x", "type": "quantitative", "scale": {"domain": [2800, 3200], "nice": false, "zero": false}, "axis": {"orient": "bottom", "values": [2800, 2900, 3000, 3100, 3200], "ticks": false, "title": "Wavenumber (cm⁻¹)", "titleX": 253.5, "titleY": 83, "titleBaseline": "alphabetic"}},
               "y": {"field": "y", "type": "quantitative", "scale": {"domain": [-0.22, 2.2], "nice": false, "zero": false}, "axis": {"orient": "left", "values": [0, 1, 2], "ticks": false, "title": null}},
               "y2": {"datum": 0}}},
            {"data": {"name": "p5s"}, "mark": {"type": "rule", "color": "#0000ff", "strokeWidth": 1.5, "opacity": 0.9},
             "encoding": {
               "x": {"field": "x", "type": "quantitative", "scale": {"domain": [2800, 3200], "nice": false, "zero": false}, "axis": {"orient": "bottom", "values": [2800, 2900, 3000, 3100, 3200], "labels": false, "title": null, "tickSize": -10}},
               "y": {"field": "y", "type": "quantitative", "scale": {"domain": [-0.22, 2.2], "nice": false, "zero": false}, "axis": {"orient": "left", "values": [0, 1, 2], "labels": false, "title": null, "tickSize": -10}},
               "y2": {"datum": 0}}},
            {"data": {"name": "p5l"}, "mark": {"type": "text"},
             "encoding": {
               "x": {"field": "x", "type": "quantitative", "scale": {"domain": [2800, 3200], "nice": false, "zero": false}, "axis": {"orient": "top", "values": [2800, 2900, 3000, 3100, 3200], "labels": false, "tickSize": -10, "title": "10", "titleX": 10, "titleY": -11, "titleAlign": "left", "titleBaseline": "alphabetic", "titleAngle": 0}},
               "y": {"field": "y", "type": "quantitative", "scale": {"domain": [-0.22, 2.2], "nice": false, "zero": false}, "axis": {"orient": "right", "values": [0, 1, 2], "labels": false, "tickSize": -10, "title": "−20", "titleX": -460, "titleY": -22, "titleAlign": "left", "titleBaseline": "alphabetic", "titleAngle": 0, "titleFontSize": 20}},
               "text": {"field": "t"}}}
          ],
          "resolve": {"axis": {"x": "independent", "y": "independent"}}
        }
      ]
    },
    {
      "bounds": "flush",
      "spacing": 0,
      "hconcat": [
        {
          "width": 378, "height": 302,
          "layer": [
            {"data": {"name": "p6a"}, "mark": {"type": "area", "color": "#0000ff"},
             "encoding": {
               "x": {"field": "x", "type": "quantitative", "scale": {"domain": [3850, 4150], "nice": false, "zero": false}, "axis": {"orient": "bottom", "values": [3900, 4000, 4100], "ticks": false, "title": "Wavenumber (cm⁻¹)", "titleX": 189, "titleY": 83, "titleBaseline": "alphabetic"}},
               "y": {"field": "y", "type": "quantitative", "scale": {"domain": [-0.35, 3.5], "nice": false, "zero": false}, "axis": {"orient": "left", "values": [0, 1, 2, 3], "ticks": false, "title": "Intensity (cm/molecule)", "titleX": -55.8, "titleY": 151, "titleAngle": 270, "titleBaseline": "alphabetic", "titleAlign": "center"}},
               "y2": {"datum": 0}}},
            {"data": {"name": "p6s"}, "mark": {"type": "rule", "color": "#0000ff", "strokeWidth": 2.2},
             "encoding": {
               "x": {"field": "x", "type": "quantitative", "scale": {"domain": [3850, 4150], "nice": false, "zero": false}, "axis": {"orient": "bottom", "values": [3900, 4000, 4100], "labels": false, "title": null, "tickSize": -10}},
               "y": {"field": "y", "type": "quantitative", "scale": {"domain": [-0.35, 3.5], "nice": false, "zero": false}, "axis": {"orient": "left", "values": [0, 1, 2, 3], "labels": false, "title": null, "tickSize": -10}},
               "y2": {"datum": 0}}},
            {"data": {"name": "p6l"}, "mark": {"type": "text"},
             "encoding": {
               "x": {"field": "x", "type": "quantitative", "scale": {"domain": [3850, 4150], "nice": false, "zero": false}, "axis": {"orient": "top", "values": [3900, 4000, 4100], "labels": false, "tickSize": -10, "title": "10", "titleX": 10, "titleY": -11, "titleAlign": "left", "titleBaseline": "alphabetic", "titleAngle": 0}},
               "y": {"field": "y", "type": "quantitative", "scale": {"domain": [-0.35, 3.5], "nice": false, "zero": false}, "axis": {"orient": "right", "values": [0, 1, 2, 3], "labels": false, "tickSize": -10, "title": "−22", "titleX": -331, "titleY": -22, "titleAlign": "left", "titleBaseline": "alphabetic", "titleAngle": 0, "titleFontSize": 20}},
               "text": {"field": "t"}}}
          ],
          "resolve": {"axis": {"x": "independent", "y": "independent"}}
        },
        {"width": 83, "height": 1, "view": {"stroke": null}, "data": {"values": []}, "mark": {"type": "rule", "opacity": 0}, "encoding": {}},
        {
          "width": 678, "height": 302,
          "view": {"stroke": null},
          "layer": [
            {"data": {"name": "p7a"}, "mark": {"type": "area", "color": "#0000ff"},
             "encoding": {
               "x": {"field": "x", "type": "quantitative", "scale": {"domain": [4225, 4673], "nice": false, "zero": false}, "axis": {"orient": "bottom", "values": [4300, 4400, 4500, 4600], "ticks": false, "domain": true, "domainColor": "#1a1a1a", "domainWidth": 1.2, "title": "Wavenumber (cm⁻¹)", "titleX": 340, "titleY": 83, "titleBaseline": "alphabetic"}},
               "y": {"field": "y", "type": "quantitative", "scale": {"domain": [-0.2, 2.0], "nice": false, "zero": false}, "axis": {"orient": "left", "values": [0, 0.5, 1, 1.5, 2], "ticks": false, "domain": true, "domainColor": "#1a1a1a", "domainWidth": 1.2, "title": null}},
               "y2": {"datum": 0}}},
            {"data": {"name": "p7s"}, "mark": {"type": "rule", "color": "#0000ff", "strokeWidth": 1.2, "opacity": 0.8},
             "encoding": {
               "x": {"field": "x", "type": "quantitative", "scale": {"domain": [4225, 4673], "nice": false, "zero": false}, "axis": {"orient": "bottom", "values": [4300, 4400, 4500, 4600], "labels": false, "title": null, "tickSize": -10}},
               "y": {"field": "y", "type": "quantitative", "scale": {"domain": [-0.2, 2.0], "nice": false, "zero": false}, "axis": {"orient": "left", "values": [0, 0.5, 1, 1.5, 2], "labels": false, "title": null, "tickSize": -10}},
               "y2": {"datum": 0}}},
            {"data": {"name": "p7l"}, "mark": {"type": "text"},
             "encoding": {
               "x": {"field": "x", "type": "quantitative", "scale": {"domain": [4225, 4673], "nice": false, "zero": false}, "axis": {"orient": "top", "values": [4300, 4400, 4500, 4600], "labels": false, "tickSize": -10, "domain": true, "domainColor": "#1a1a1a", "domainWidth": 1.2, "title": "10", "titleX": 10, "titleY": -11, "titleAlign": "left", "titleBaseline": "alphabetic", "titleAngle": 0}},
               "y": {"field": "y", "type": "quantitative", "scale": {"domain": [-0.2, 2.0], "nice": false, "zero": false}, "axis": {"orient": "right", "values": [0, 0.5, 1, 1.5, 2], "labels": false, "tickSize": -10, "title": "−21", "titleX": -631, "titleY": -22, "titleAlign": "left", "titleBaseline": "alphabetic", "titleAngle": 0, "titleFontSize": 20}},
               "text": {"field": "t"}}}
          ],
          "resolve": {"axis": {"x": "independent", "y": "independent"}}
        }
      ]
    }
  ]
}
